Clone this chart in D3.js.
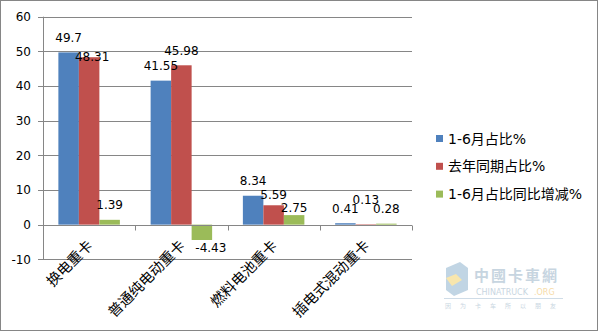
<!DOCTYPE html>
<html><head><meta charset="utf-8">
<script src="https://cdn.jsdelivr.net/npm/d3@7/dist/d3.min.js"></script>
<style>
html,body{margin:0;padding:0;background:#fff;}
svg{display:block;}
</style></head>
<body>
<script>
const categories = ["换电重卡", "普通纯电动重卡", "燃料电池重卡", "插电式混动重卡"];
const seriesNames = ["1-6月占比%", "去年同期占比%", "1-6月占比同比增减%"];
const share2023 = [49.7, 41.55, 8.34, 0.41];
const share2022 = [48.31, 45.98, 5.59, 0.13];
const shareChange = [1.39, -4.43, 2.75, 0.28];
const yTicks = [-10, 0, 10, 20, 30, 40, 50, 60];
const colors = ["#4F81BD", "#C0504D", "#9BBB59"];
// label nudges to mimic the reference's label collision layout
const labelNudge = {"0-1": [3, 14], "1-2": [9, 0], "2-1": [0, 4], "2-2": [0, 8], "3-1": [0, -10]};

const series = [share2023, share2022, shareChange];
const W = 600, H = 332;
const svg = d3.select("body").append("svg").attr("width", W).attr("height", H);

svg.append("rect").attr("x", 0.5).attr("y", 0.5).attr("width", 597).attr("height", 330)
  .attr("fill", "#fff").attr("stroke", "#868686").attr("stroke-width", 1);

const plot = {left: 43, right: 412, top: 16.7, bottom: 259.3};
const y = d3.scaleLinear().domain([-10, 60]).range([plot.bottom, plot.top]);
const x0 = d3.scaleBand().domain(categories).range([plot.left, plot.right]).paddingInner(0).paddingOuter(0);
const bw = x0.bandwidth();
// Excel gap width 150%: bar = band/4.5, outer gap = 0.75 bar each side
const x1 = d3.scaleBand().domain([0, 1, 2]).range([bw * 0.75 / 4.5, bw - bw * 0.75 / 4.5]).padding(0);

const grid = "#868686";
svg.append("g").selectAll("line").data(yTicks).join("line")
  .attr("x1", plot.left - 5).attr("x2", plot.right)
  .attr("y1", d => Math.round(y(d)) + 0.5).attr("y2", d => Math.round(y(d)) + 0.5)
  .attr("stroke", grid).attr("stroke-width", 1);
svg.append("line").attr("x1", plot.left + 0.5).attr("x2", plot.left + 0.5)
  .attr("y1", plot.top).attr("y2", plot.bottom).attr("stroke", grid);
svg.append("g").selectAll("text").data(yTicks).join("text")
  .attr("x", plot.left - 12).attr("y", d => y(d)).attr("dy", "0.36em")
  .attr("text-anchor", "end").attr("font-family", "DejaVu Sans, Verdana, sans-serif")
  .attr("font-size", 12).attr("fill", "#000").text(d => d);

categories.forEach((c, ci) => {
  series.forEach((s, si) => {
    const v = s[ci];
    const bx = x0(c) + x1(si);
    svg.append("rect").attr("x", bx).attr("width", x1.bandwidth())
      .attr("y", y(Math.max(0, v))).attr("height", Math.abs(y(v) - y(0)))
      .attr("fill", colors[si]);
  });
});

const y0 = Math.round(y(0)) + 0.5;
svg.append("line").attr("x1", plot.left).attr("x2", plot.right).attr("y1", y0).attr("y2", y0).attr("stroke", grid);
const bounds = categories.map(c => x0(c)).concat([plot.right]);
svg.append("g").selectAll("line").data(bounds.slice(1)).join("line")
  .attr("x1", d => Math.round(d) + 0.5).attr("x2", d => Math.round(d) + 0.5)
  .attr("y1", y0).attr("y2", y0 + 5).attr("stroke", grid);

categories.forEach((c, ci) => {
  series.forEach((s, si) => {
    const v = s[ci];
    const n = labelNudge[ci + "-" + si] || [0, 0];
    const cx = x0(c) + x1(si) + x1.bandwidth() / 2 + n[0];
    const cy = (v >= 0 ? y(v) - 15 : y(v) + 8) + n[1];
    svg.append("text").attr("x", cx).attr("y", cy).attr("dy", "0.36em")
      .attr("text-anchor", "middle").attr("font-family", "DejaVu Sans, Verdana, sans-serif")
      .attr("font-size", 12).attr("fill", "#000").text(v);
  });
});

svg.append("g").selectAll("text").data(categories).join("text")
  .attr("transform", d => `translate(${x0(d) + bw / 2 + 1},243) rotate(-45)`)
  .attr("text-anchor", "end").attr("dy", "0.35em")
  .attr("font-family", "Noto Sans CJK SC, sans-serif").attr("font-size", 14.5)
  .attr("fill", "#000").text(d => d);

const lg = svg.append("g");
seriesNames.forEach((name, i) => {
  const cy = 138.5 + i * 27.8;
  lg.append("rect").attr("x", 436).attr("y", cy - 3.5).attr("width", 7).attr("height", 7).attr("fill", colors[i]);
  lg.append("text").attr("x", 448).attr("y", cy).attr("dy", "0.36em")
    .attr("font-family", "DejaVu Sans, Noto Sans CJK SC, sans-serif").attr("font-size", 14)
    .attr("fill", "#000").text(name);
});

const wm = svg.append("g").attr("opacity", 0.55);
wm.append("path").attr("d", "M446,268 L460,262 L468,268 L468,290 L454,296 L446,290 Z").attr("fill", "#8fb3cf");
wm.append("path").attr("d", "M446,278 L456,274 L462,280 L452,286 Z").attr("fill", "#f3d36b");
wm.append("text").attr("x", 474).attr("y", 281).attr("font-family", "Noto Sans CJK SC, sans-serif")
  .attr("font-size", 15).attr("font-weight", "bold").attr("fill", "#9ab4c8").attr("letter-spacing", 2).text("中國卡車網");
wm.append("text").attr("x", 476).attr("y", 295).attr("font-family", "DejaVu Sans, sans-serif")
  .attr("font-size", 8).attr("fill", "#9ab4c8").text("CHINATRUCK");
wm.append("text").attr("x", 534).attr("y", 295).attr("font-family", "DejaVu Sans, sans-serif")
  .attr("font-size", 8).attr("fill", "#f0c060").text(".ORG");
wm.append("line").attr("x1", 444).attr("x2", 563).attr("y1", 298.5).attr("y2", 298.5).attr("stroke", "#a8c0d4");
wm.append("text").attr("x", 445).attr("y", 308).attr("font-family", "Noto Sans CJK SC, sans-serif")
  .attr("font-size", 6).attr("fill", "#9ab4c8").attr("letter-spacing", 9).text("因为卡车所以朋友");
</script>
</body></html>
